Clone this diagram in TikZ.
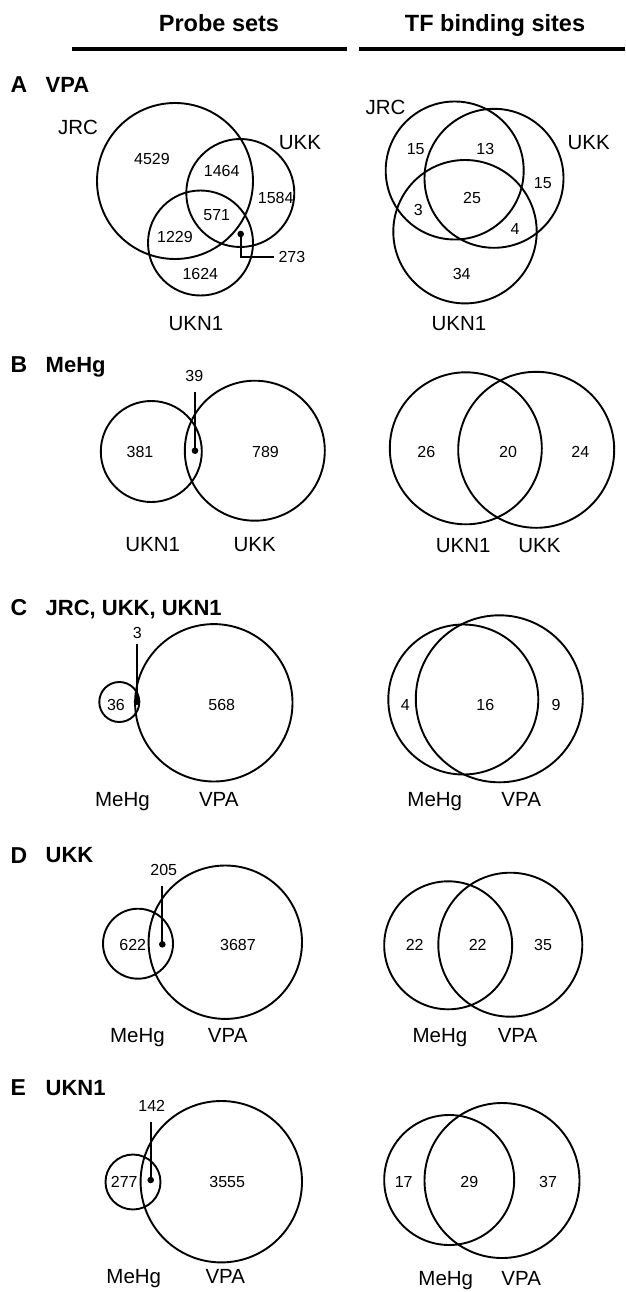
\documentclass[tikz,border=0pt]{standalone}
\usepackage{fontspec}
\setmainfont{Liberation Sans}
\begin{document}
\begin{tikzpicture}[x=1pt,y=-1pt,
  venn/.style={line width=1.9pt},
  num/.style={inner sep=0pt, font=\fontsize{16}{19}\selectfont, text height=11.5pt, text depth=0pt},
  setlbl/.style={inner sep=0pt, font=\fontsize{20.5}{24}\selectfont, text height=14.7pt, text depth=0pt},
  hdr/.style={inner sep=0pt, font=\bfseries\fontsize{23.5}{28}\selectfont, text height=16.8pt, text depth=0pt},
  panel/.style={inner sep=0pt, anchor=west, font=\bfseries\fontsize{23}{27}\selectfont, text height=16.5pt, text depth=0pt},
  ptitle/.style={inner sep=0pt, anchor=west, font=\bfseries\fontsize{22}{26}\selectfont, text height=15.8pt, text depth=0pt},
  hrule/.style={line width=4pt},
  leader/.style={line width=1.8pt},
  dotmark/.style={fill=black}
]
\useasboundingbox (0,0) rectangle (625,1292);

% headers
\node[hdr] (h1) at (219,23) {Probe sets};
\node[hdr] (h2) at (495,23) {TF binding sites};
\draw[hrule] (72,48.7) -- (347,48.7);
\draw[hrule] (359,48.7) -- (625,48.7);

% ---------- Panel A ----------
\node[panel] (pA) at (10.5,84.7) {A};
\node[ptitle] (tA) at (45.5,84.7) {VPA};
\draw[venn] (175,181) circle[radius=78pt];
\draw[venn] (240.3,193) circle[radius=54pt];
\draw[venn] (200.5,243) circle[radius=52.5pt];
\node[setlbl] (aJRC) at (78,126.7) {JRC};
\node[setlbl] (aUKK) at (300,142.3) {UKK};
\node[setlbl] (aUKN) at (196,323) {UKN1};
\node[num] (a1) at (152,158.3) {4529};
\node[num] (a2) at (221.7,170.7) {1464};
\node[num] (a3) at (275.7,197.3) {1584};
\node[num] (a4) at (216.7,215) {571};
\node[num] (a5) at (175,236.7) {1229};
\node[num] (a6) at (200.3,273.3) {1624};
\node[num,anchor=west] (a7) at (278.3,256.7) {273};
\coordinate (dA) at (240.7,234);
\draw[leader] (dA) |- ([xshift=-4.3pt]a7.west);
\fill[dotmark] (dA) circle[radius=3.3pt];

\draw[venn] (454.7,170.5) circle[radius=69pt];
\draw[venn] (494,178.3) circle[radius=69.5pt];
\draw[venn] (465,231.7) circle[radius=71.7pt];
\node[setlbl] (rJRC) at (385.5,106.7) {JRC};
\node[setlbl] (rUKK) at (588.7,141.7) {UKK};
\node[setlbl] (rUKN) at (459,323) {UKN1};
\node[num] (r1) at (415.7,148.3) {15};
\node[num] (r2) at (485.3,148.3) {13};
\node[num] (r3) at (542.8,182.7) {15};
\node[num] (r4) at (472,197.3) {25};
\node[num] (r5) at (418.3,209.3) {3};
\node[num] (r6) at (515,228.3) {4};
\node[num] (r7) at (461.7,273.3) {34};

% ---------- Panel B ----------
\node[panel] (pB) at (10.5,364.2) {B};
\node[ptitle] (tB) at (45.5,364.2) {MeHg};
\draw[venn] (151.3,451.5) circle[radius=50.5pt];
\draw[venn] (254.8,450.7) circle[radius=70pt];
\node[num] (b1) at (140,451.7) {381};
\node[num] (b2) at (265.5,451.7) {789};
\node[num] (b3) at (194.3,375.7) {39};
\coordinate (dB) at (195,450.7);
\draw[leader] (dB) -- ([yshift=-10pt]b3.south -| dB);
\fill[dotmark] (dB) circle[radius=3.3pt];
\node[setlbl] (bL1) at (152.7,544.5) {UKN1};
\node[setlbl] (bL2) at (254.7,544.5) {UKK};

\draw[venn] (465.8,448.3) circle[radius=76pt];
\draw[venn] (536.2,449.8) circle[radius=78pt];
\node[num] (b4) at (426.3,451.7) {26};
\node[num] (b5) at (508,451.7) {20};
\node[num] (b6) at (580.3,451.7) {24};
\node[setlbl] (bR1) at (463.2,545) {UKN1};
\node[setlbl] (bR2) at (539.5,545) {UKK};

% ---------- Panel C ----------
\node[panel] (pC) at (10.5,607.2) {C};
\node[ptitle] (tC) at (45.5,607.2) {JRC, UKK, UKN1};
\draw[venn] (119.3,702) circle[radius=20pt];
\draw[venn] (213.8,702.8) circle[radius=78.7pt];
\node[num] (c1) at (116,705) {36};
\node[num] (c2) at (221.7,705) {568};
\node[num] (c3) at (137.3,632.3) {3};
\coordinate (dC) at (137,701.7);
\draw[leader] (dC) -- ([yshift=-5.5pt]c3.south -| dC);
\fill[dotmark] (dC) circle[radius=3.3pt];
\node[setlbl] (cL1) at (122.5,799.3) {MeHg};
\node[setlbl] (cL2) at (218.8,799.3) {VPA};

\draw[venn] (463.3,699.5) circle[radius=75pt];
\draw[venn] (499.3,698.8) circle[radius=83.5pt];
\node[num] (c4) at (405.3,705) {4};
\node[num] (c5) at (485.3,705) {16};
\node[num] (c6) at (556,705) {9};
\node[setlbl] (cR1) at (434.8,799.3) {MeHg};
\node[setlbl] (cR2) at (521.2,799.3) {VPA};

% ---------- Panel D ----------
\node[panel] (pD) at (10.5,855) {D};
\node[ptitle] (tD) at (45.5,855) {UKK};
\draw[venn] (138,943.7) circle[radius=35pt];
\draw[venn] (225.3,942.2) circle[radius=76.7pt];
\node[num] (d1) at (132.7,945) {622};
\node[num] (d2) at (238,945) {3687};
\node[num] (d3) at (163.7,870) {205};
\coordinate (dD) at (162.3,944.3);
\draw[leader] (dD) -- ([yshift=-10pt]d3.south -| dD);
\fill[dotmark] (dD) circle[radius=3.3pt];
\node[setlbl] (dL1) at (137.5,1035.5) {MeHg};
\node[setlbl] (dL2) at (227.7,1035.5) {VPA};

\draw[venn] (448.2,945.3) circle[radius=64pt];
\draw[venn] (510.3,944.7) circle[radius=72pt];
\node[num] (d4) at (414.7,945) {22};
\node[num] (d5) at (477.7,945) {22};
\node[num] (d6) at (543,945) {35};
\node[setlbl] (dR1) at (440,1035.5) {MeHg};
\node[setlbl] (dR2) at (517.5,1035.5) {VPA};

% ---------- Panel E ----------
\node[panel] (pE) at (10.5,1087.5) {E};
\node[ptitle] (tE) at (45.5,1087.5) {UKN1};
\draw[venn] (133,1182) circle[radius=27.5pt];
\draw[venn] (221.3,1181.7) circle[radius=80.7pt];
\node[num] (e1) at (124.2,1181.7) {277};
\node[num] (e2) at (227.2,1181.7) {3555};
\node[num] (e3) at (151.7,1106) {142};
\coordinate (dE) at (150.7,1180);
\draw[leader] (dE) -- ([yshift=-10.5pt]e3.south -| dE);
\fill[dotmark] (dE) circle[radius=3.3pt];
\node[setlbl] (eL1) at (133.8,1276) {MeHg};
\node[setlbl] (eL2) at (225.3,1276) {VPA};

\draw[venn] (449.2,1180) circle[radius=65pt];
\draw[venn] (502,1180.5) circle[radius=77.5pt];
\node[num] (e4) at (403.7,1181.7) {17};
\node[num] (e5) at (469.3,1181.7) {29};
\node[num] (e6) at (548,1181.7) {37};
\node[setlbl] (eR1) at (445.8,1278) {MeHg};
\node[setlbl] (eR2) at (521.2,1278) {VPA};
\end{tikzpicture}
\end{document}
